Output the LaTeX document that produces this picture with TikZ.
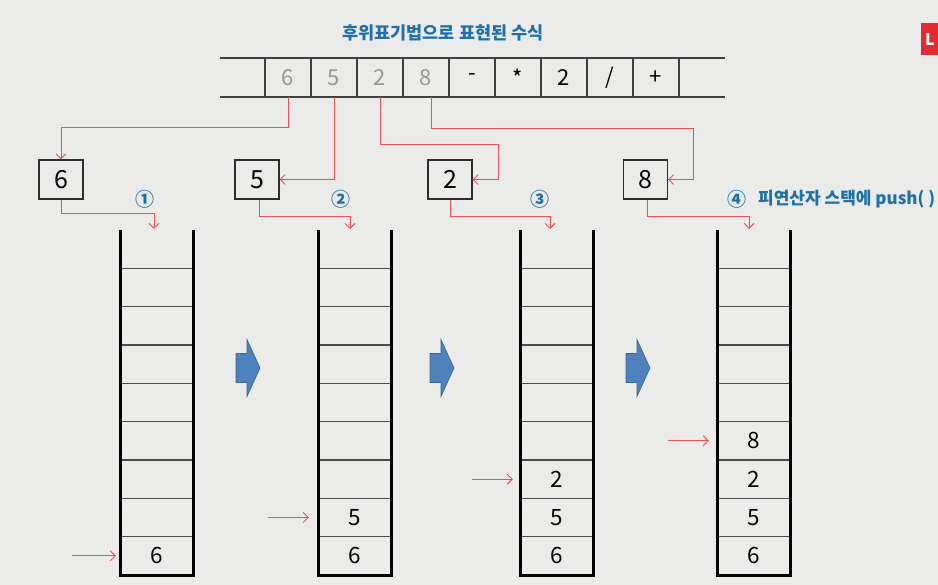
\documentclass[tikz,border=0pt]{standalone}
\usepackage{fontspec}
\setmainfont{Noto Sans CJK KR}
\usetikzlibrary{calc,backgrounds,arrows.meta,positioning}
\definecolor{fond}{RGB}{235,235,233}
\definecolor{titleblue}{RGB}{30,112,170}
\definecolor{linkred}{RGB}{238,80,80}
\definecolor{arrowblue}{RGB}{79,129,189}
\definecolor{arrowedge}{RGB}{58,100,150}
\definecolor{digitgray}{RGB}{150,150,150}
\definecolor{boxgray}{RGB}{45,45,45}
\definecolor{badgered}{RGB}{225,45,50}

\begin{document}
\begin{tikzpicture}[x=1pt,y=-1pt]
  % Version pile d'opérandes

  %
  % Définitions
  %
  \tikzset{
    stack/.pic={
      \foreach \k in {1,...,8}{
        \draw[line width=1.1pt,draw=black!70] (0,{345-38.33*\k}) -- (73,{345-38.33*\k});
      }
      \draw[line width=3pt,line join=miter] (0,0) -- (0,345) -- (73,345) -- (73,0);
    },
    blockarrow/.pic={
      \filldraw[fill=arrowblue,draw=arrowedge,line width=0.6pt]
      (0,-14.5) -- (11,-14.5) -- (11,-28.5) -- (24,0) -- (11,28.5) -- (11,14.5) -- (0,14.5) -- cycle;
    },
    grid/.style={draw=black!75,line width=1.2pt},
    slot/.style={minimum width=46pt,minimum height=39pt,inner sep=0pt,font=\fontsize{22}{26}\selectfont},
    done/.style={slot,text=digitgray},
    todo/.style={slot,text=black},
    box/.style={draw=boxgray,line width=1.2pt,minimum width=44pt,minimum height=39pt,inner sep=0pt,font=\fontsize{25}{29}\selectfont},
    cell/.style={minimum width=73pt,minimum height=38pt,inner sep=0pt,font=\fontsize{22.5}{26}\selectfont},
    link/.style={draw=linkred,line width=0.9pt,-{Straight Barb[length=5pt,width=10pt]}},
    stepnum/.style={text=titleblue,font=\fontsize{19}{22}\selectfont\bfseries,inner sep=0pt},
    pushtext/.style={text=titleblue,font=\fontsize{17}{20}\selectfont\bfseries,inner sep=0pt},
    title/.style={text=titleblue,font=\fontsize{17.5}{21}\selectfont\bfseries,inner sep=0pt},
    badge/.style={fill=badgered,text=white,anchor=north west,minimum height=32pt,inner xsep=4pt,font=\fontsize{16}{18}\selectfont\bfseries},
  }
  \pgfmathsetmacro{\ytop}{58};%
  \pgfmathsetmacro{\ybot}{97};%
  \pgfmathsetmacro{\yarr}{77.5};%
  \pgfmathsetmacro{\ybox}{179.5};%
  \pgfmathsetmacro{\ystep}{199};%

  \useasboundingbox (0,0) rectangle (938,585);
  \fill[fond] (0,0) rectangle (938,585);

  %
  % Dessin
  %
  % Titre
  \node[title] (title) at (443,33) {후위표기법으로 표현된 수식};
  \node[badge] (tab) at (921,23) {L};

  % Expression
  \draw[grid] (220,\ytop) -- (725,\ytop) (220,\ybot) -- (725,\ybot);
  \foreach \x in {265,311,...,679} \draw[grid] (\x,\ytop) -- (\x,\ybot);
  \node[done] (a1) at (288,\yarr) {6};
  \node[done] (a2) at (334,\yarr) {5};
  \node[done] (a3) at (380,\yarr) {2};
  \node[done] (a4) at (426,\yarr) {8};
  \node[todo] (a5) at (472,\yarr) {-};
  \node[todo] (a6) at (518,\yarr) {*};
  \node[todo] (a7) at (564,\yarr) {2};
  \node[todo] (a8) at (610,\yarr) {/};
  \node[todo] (a9) at (656,\yarr) {+};

  % Opérandes lus
  \node[box] (b1) at (61,\ybox) {6};
  \node[box] (b2) at (257,\ybox) {5};
  \node[box] (b3) at (450,\ybox) {2};
  \node[box] (b4) at (645.5,\ybox) {8};

  \draw[link] (a1.south) -- ++(0,30) -| (b1.north);
  \draw[link] (a2.south) |- (b2.east);
  \draw[link] (a3.south) -- ++(0,47) -| ($(b3.east)+(26,0)$) -- (b3.east);
  \draw[link] ([xshift=5pt]a4.south) -- ++(0,31) -| ($(b4.east)+(25,0)$) -- (b4.east);

  % Etapes
  \node[stepnum] (n1) at (145,\ystep) {①};
  \node[stepnum] (n2) at (341,\ystep) {②};
  \node[stepnum] (n3) at (540,\ystep) {③};
  \node[stepnum] (n4) at (737,\ystep) {④};
  \node[pushtext,anchor=west] (push) at (758,\ystep) {피연산자 스택에 push( )};

  % Piles
  \pic at (120,230) {stack};
  \pic at (318,230) {stack};
  \pic at (520,230) {stack};
  \pic at (717,230) {stack};

  \coordinate (t1) at (154,229);
  \coordinate (t2) at (350,229);
  \coordinate (t3) at (550,229);
  \coordinate (t4) at (749,229);
  \draw[link] (b1.south) -- ++(0,14) -| (t1);
  \draw[link] ([xshift=2pt]b2.south) -- ++(0,17) -| (t2);
  \draw[link] (b3.south) -- ++(0,17) -| (t3);
  \draw[link] ([xshift=2pt]b4.south) -- ++(0,17) -| (t4);

  \node[cell] (s1c1) at (156.5,555.8) {6};

  \node[cell] (s2c1) at (354.5,555.8) {6};
  \node[cell] (s2c2) at (354.5,517.5) {5};

  \node[cell] (s3c1) at (556.5,555.8) {6};
  \node[cell] (s3c2) at (556.5,517.5) {5};
  \node[cell] (s3c3) at (556.5,479.2) {2};

  \node[cell] (s4c1) at (753.5,555.8) {6};
  \node[cell] (s4c2) at (753.5,517.5) {5};
  \node[cell] (s4c3) at (753.5,479.2) {2};
  \node[cell] (s4c4) at (753.5,440.8) {8};

  % Sommets
  \coordinate (p1) at (72,555.8);
  \coordinate (p2) at (268,517.5);
  \coordinate (p3) at (472,479.2);
  \coordinate (p4) at (668,440.8);
  \draw[link] (p1) -- ([xshift=-4pt]s1c1.west);
  \draw[link] (p2) -- ([xshift=-9pt]s2c2.west);
  \draw[link] (p3) -- ([xshift=-7pt]s3c3.west);
  \draw[link] (p4) -- ([xshift=-8pt]s4c4.west);

  % Flèches
  \pic at (236,368) {blockarrow};
  \pic at (430,368) {blockarrow};
  \pic at (626,368) {blockarrow};

\end{tikzpicture}
\end{document}
